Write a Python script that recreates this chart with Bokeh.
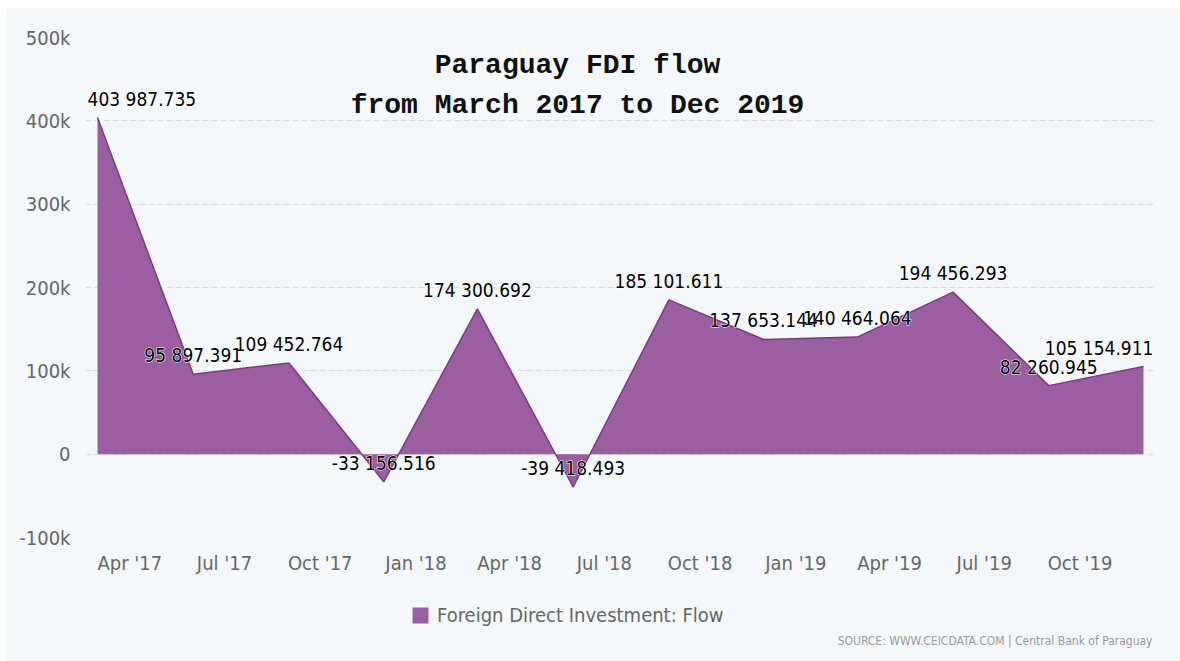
from datetime import datetime
import pandas as pd
from bokeh.plotting import figure
from bokeh.layouts import column
from bokeh.models import (Range1d, FixedTicker, DatetimeTickFormatter, NumeralTickFormatter,
                          Label, Legend, LegendItem, ColumnDataSource)
from bokeh.core.properties import value
from bokeh.embed import file_html
from bokeh.resources import INLINE

# ---------------- data ----------------
dates = ["2017-03-01", "2017-06-01", "2017-09-01", "2017-12-01",
         "2018-03-01", "2018-06-01", "2018-09-01", "2018-12-01",
         "2019-03-01", "2019-06-01", "2019-09-01", "2019-12-01"]
fdi_flow = [403987.735, 95897.391, 109452.764, -33156.516,
            174300.692, -39418.493, 185101.611, 137653.144,
            140464.064, 194456.293, 82260.945, 105154.911]
x_tick_dates = ["2017-04-01", "2017-07-01", "2017-10-01", "2018-01-01",
                "2018-04-01", "2018-07-01", "2018-10-01", "2019-01-01",
                "2019-04-01", "2019-07-01", "2019-10-01"]
y_ticks = [-100000, 0, 100000, 200000, 300000, 400000, 500000]
series_name = "Foreign Direct Investment: Flow"
title_lines = ["Paraguay FDI flow", "from March 2017 to Dec 2019"]
source_note = "SOURCE: WWW.CEICDATA.COM | Central Bank of Paraguay"

# ---------------- styles ----------------
BG = "#f4f8fb"
FILL = "#9b5ea0"
LINE = "#7a3b82"
AXIS_TXT = "#666666"
COND = "DejaVu Sans Condensed, Liberation Sans Narrow, DejaVu Sans, sans-serif"
W = 1173
BL, BR = 78, 25

x = pd.to_datetime(dates)
labels = [f"{v:,.3f}".replace(",", " ") for v in fdi_flow]
src = ColumnDataSource(dict(x=x, y=fdi_flow, zero=[0] * len(fdi_flow), lab=labels))

p = figure(width=W, height=573, x_axis_type="datetime",
           output_backend="svg", toolbar_location=None,
           x_range=Range1d(datetime(2017, 2, 17, 11), datetime(2019, 12, 12, 13)),
           y_range=Range1d(-100000, 500000))
p.margin = 0
p.min_border_left = BL
p.min_border_right = BR
p.min_border_top = 29
p.min_border_bottom = 44
p.background_fill_color = BG
p.border_fill_color = BG
p.outline_line_color = None

area = p.varea(x="x", y1="zero", y2="y", source=src, fill_color=FILL, fill_alpha=1.0)
p.line(x="x", y="y", source=src, line_color=LINE, line_width=1.5)

# data labels (white halo underneath, black text on top)
n = len(fdi_flow)
parts = [
    (slice(0, 1), "left", -10),
    (slice(1, n - 1), "center", 0),
    (slice(n - 1, n), "right", 10),
]
for sl, align, xo in parts:
    s = ColumnDataSource(dict(x=x[sl], y=fdi_flow[sl], lab=labels[sl]))
    base = dict(x="x", y="y", text="lab", source=s, text_align=align, x_offset=xo,
                y_offset=-8, text_baseline="bottom", text_font=value(COND),
                text_font_size="19px")
    p.text(text_color="white", text_outline_color="white", **base)
    p.text(text_color="#000000", **base)

# axes
p.xaxis.ticker = FixedTicker(ticks=[pd.Timestamp(d).value / 1e6 for d in x_tick_dates])
fmt = "%b '%y"
p.xaxis.formatter = DatetimeTickFormatter(days=fmt, months=fmt, years=fmt, hours=fmt,
                                          minutes=fmt, seconds=fmt, milliseconds=fmt,
                                          microseconds=fmt, minsec=fmt, hourmin=fmt)
p.yaxis.ticker = FixedTicker(ticks=y_ticks)
p.yaxis.formatter = NumeralTickFormatter(format="0a")
for ax in (p.xaxis, p.yaxis):
    ax.axis_line_color = None
    ax.major_tick_line_color = None
    ax.minor_tick_line_color = None
    ax.major_tick_out = 0
    ax.minor_tick_out = 0
    ax.major_label_text_font = COND
    ax.major_label_text_font_size = "20px"
    ax.major_label_text_color = AXIS_TXT
p.xaxis.major_label_standoff = 13
p.yaxis.major_label_standoff = 15

p.xgrid.grid_line_color = None
p.ygrid.grid_line_color = "#d8dde2"
p.ygrid.grid_line_dash = "6 3"
p.ygrid.grid_line_width = 1

# title
for i, t in enumerate(title_lines):
    p.add_layout(Label(x=492, y=472 - 40 * i, x_units="screen", y_units="screen", text=t,
                       text_font="Liberation Mono", text_font_style="bold",
                       text_font_size="28px", text_color="#111111",
                       text_align="center", text_baseline="middle"))

# ---------- footer strip: legend + source note ----------
p2 = figure(width=W, height=80, output_backend="svg", toolbar_location=None,
            x_range=Range1d(0, 1), y_range=Range1d(0, 1),
            x_axis_location=None, y_axis_location=None)
p2.min_border_left = BL
p2.min_border_right = BR
p2.min_border_top = 0
p2.min_border_bottom = 0
p2.margin = 0
p2.background_fill_color = BG
p2.border_fill_color = BG
p2.outline_line_color = None
p2.xgrid.visible = False
p2.ygrid.visible = False
# zero-height (invisible) area that only supplies the legend swatch
swatch = p2.varea(x="x", y1="zero", y2="zero", source=src, fill_color=FILL, fill_alpha=1.0)

legend = Legend(items=[LegendItem(label=series_name, renderers=[swatch])],
                location=(403 - BL, 34), orientation="horizontal",
                padding=0, margin=0, spacing=0, glyph_width=20, glyph_height=20,
                label_standoff=7, label_text_font=COND, label_text_font_size="20px",
                label_text_color=AXIS_TXT, border_line_color=None,
                background_fill_alpha=0)
p2.add_layout(legend)

p2.add_layout(Label(x=1145 - BL, y=21, x_units="screen", y_units="screen", text=source_note,
                    text_font=COND, text_font_size="12px", text_color="#999999",
                    text_align="right", text_baseline="middle"))

layout = column(p, p2, spacing=0, margin=(8, 0, 0, 7),
                styles={"background-color": BG})
open("out.html", "w").write(file_html(layout, INLINE))
